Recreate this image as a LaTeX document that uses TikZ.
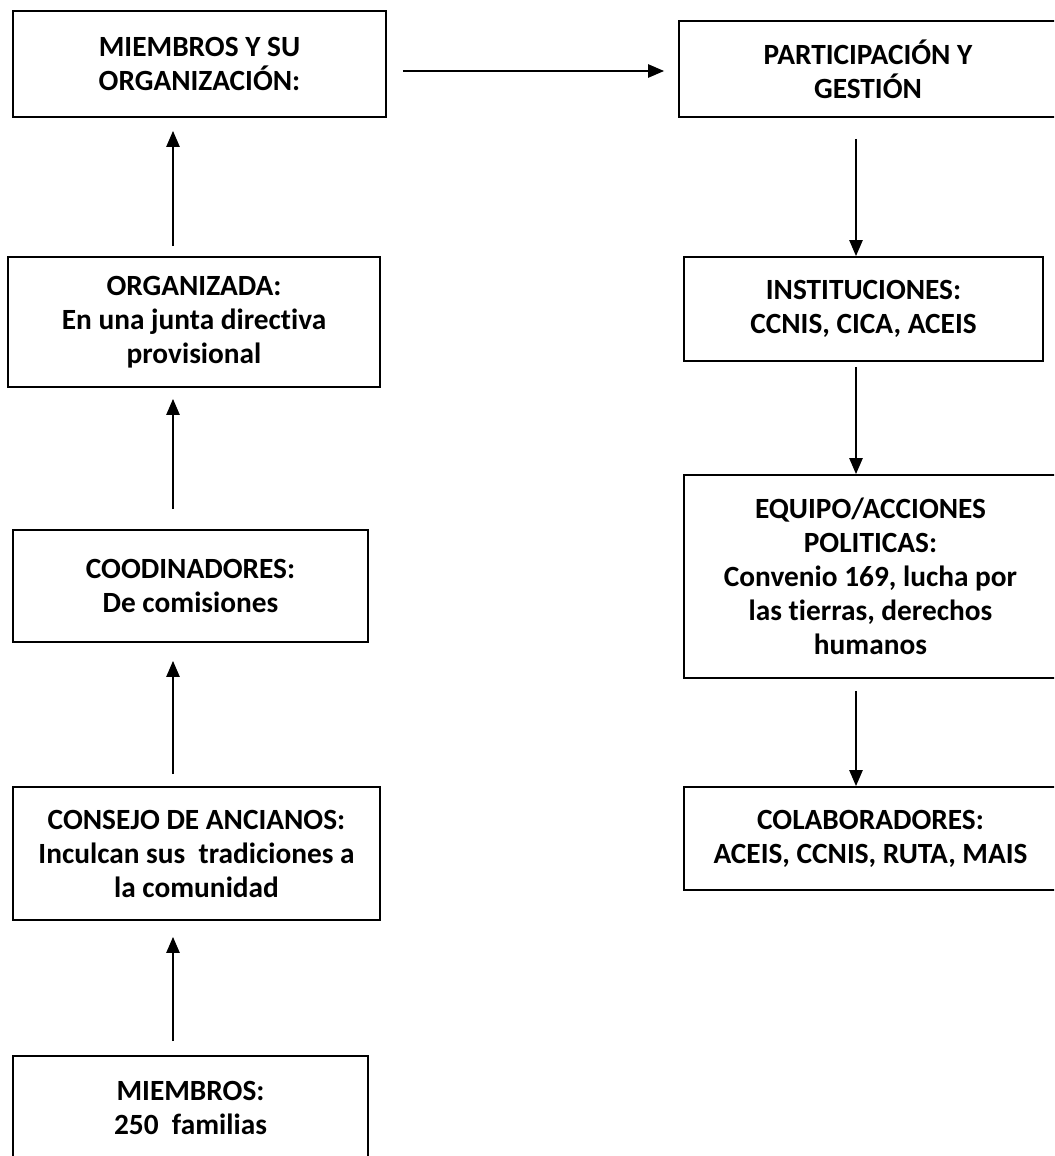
\documentclass[tikz,border=0pt]{standalone}
\usepackage{fontspec}
\setmainfont{Carlito}[Ligatures={TeX,NoCommon}]
\usetikzlibrary{arrows.meta}

\tikzset{
  caja/.style={rectangle, draw, line width=1.4pt, inner sep=0pt, align=center, font=\bfseries\fontsize{22}{25.5}\selectfont},
  flecha/.style={-{Triangle[length=12pt, width=10pt]}, line width=1.2pt}
}

\begin{document}
\begin{tikzpicture}[x=0.75pt, y=-0.75pt]

    \useasboundingbox (0,0) rectangle (1054,1156);
    \clip (0,0) rectangle (1054,1156);

    % Nodes
    \node[caja, minimum width=279.75pt, minimum height=79.5pt] (miembrosorg) at (199.5,64) {MIEMBROS Y SU\\ORGANIZACIÓN:};
    \node[caja, minimum width=283.5pt, minimum height=72pt] (participacion) at (868,69) {PARTICIPACIÓN Y\\GESTIÓN};
    \node[caja, minimum width=279pt, minimum height=97.5pt] (organizada) at (194,322) {ORGANIZADA:\\En una junta directiva\\provisional};
    \node[caja, minimum width=269.25pt, minimum height=78pt] (instituciones) at (863.5,309) {INSTITUCIONES:\\CCNIS, CICA, ACEIS};
    \node[caja, minimum width=266.25pt, minimum height=84pt] (coordinadores) at (190.5,586) {COODINADORES:\\De comisiones};
    \node[caja, minimum width=279.75pt, minimum height=152.25pt] (equipo) at (870.5,576.5) {EQUIPO/ACCIONES\\POLITICAS:\\Convenio 169, lucha por\\las tierras, derechos\\humanos};
    \node[caja, minimum width=275.25pt, minimum height=99.75pt] (consejo) at (196.5,853.5) {CONSEJO DE ANCIANOS:\\Inculcan sus\ \ tradiciones a\\la comunidad};
    \node[caja, minimum width=279.75pt, minimum height=77.25pt] (colaboradores) at (870.5,838.5) {COLABORADORES:\\ACEIS, CCNIS, RUTA, MAIS};
    \node[caja, minimum width=266.25pt, minimum height=78pt] (miembros) at (190.5,1108) {MIEMBROS:\\250\ \ familias};

    % Arrows
    \coordinate (izq) at (173,0);
    \coordinate (der) at (856,0);
    \coordinate (horiz) at (0,71);

    \draw[flecha, shorten <=10.5pt, shorten >=12pt] (miembros.north -| izq) -- (consejo.south -| izq);
    \draw[flecha, shorten <=9pt, shorten >=13.5pt] (consejo.north -| izq) -- (coordinadores.south -| izq);
    \draw[flecha, shorten <=15pt, shorten >=8.25pt] (coordinadores.north -| izq) -- (organizada.south -| izq);
    \draw[flecha, shorten <=7.5pt, shorten >=9.75pt] (organizada.north -| izq) -- (miembrosorg.south -| izq);

    \draw[flecha, shorten <=12pt, shorten >=10.5pt] (miembrosorg.east |- horiz) -- (participacion.west |- horiz);

    \draw[flecha, shorten <=15.75pt] (participacion.south -| der) -- (instituciones.north -| der);
    \draw[flecha, shorten <=3.75pt] (instituciones.south -| der) -- (equipo.north -| der);
    \draw[flecha, shorten <=9pt] (equipo.south -| der) -- (colaboradores.north -| der);

\end{tikzpicture}
\end{document}
